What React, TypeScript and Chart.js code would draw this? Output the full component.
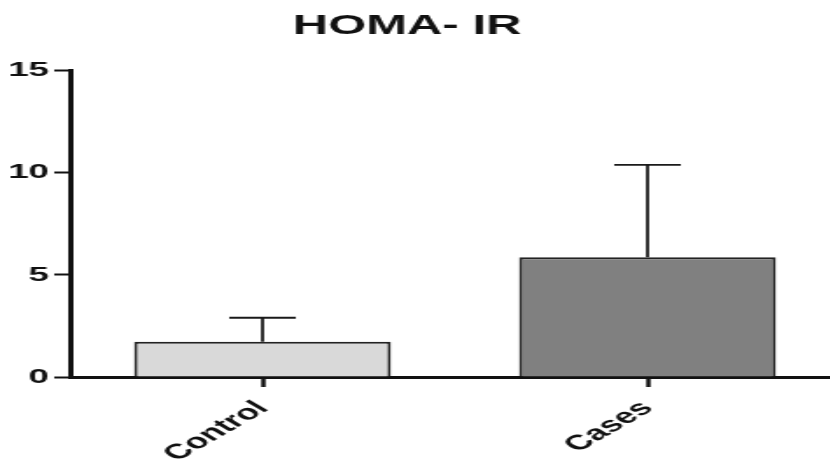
import React, { useEffect, useRef } from "react";
import { Chart, registerables } from "chart.js";

Chart.register(...registerables);

// ---- data ----
const chartTitle = "HOMA- IR";
const categories = ["Control", "Cases"];
const means = [1.73, 5.86];
const sds = [1.17, 4.52];
const barColors = ["#d9d9d9", "#808080"];
const yMin = 0;
const yMax = 15;
const yStep = 5;

// the reference image is horizontally stretched; the canvas is drawn narrow and stretched by CSS
const SX = 1.75;
const W = 480;
const H = 468;
const FONT = "'Liberation Sans', Arial, sans-serif";

export default function App() {
  const ref = useRef<HTMLCanvasElement>(null);

  useEffect(() => {
    const canvas = ref.current;
    if (!canvas) return;

    const errorBars = {
      id: "errorBars",
      afterDatasetsDraw(chart: any) {
        const ctx = chart.ctx;
        const meta = chart.getDatasetMeta(0);
        const y = chart.scales.y;
        ctx.save();
        ctx.strokeStyle = "#1a1a1a";
        ctx.lineWidth = 1.8;
        meta.data.forEach((bar: any, i: number) => {
          const top = y.getPixelForValue(means[i] + sds[i]);
          ctx.beginPath();
          ctx.moveTo(bar.x, bar.y);
          ctx.lineTo(bar.x, top);
          ctx.moveTo(bar.x - 19, top);
          ctx.lineTo(bar.x + 19, top);
          ctx.stroke();
        });
        ctx.restore();
      },
    };

    const titlePlugin = {
      id: "stretchedTitle",
      afterDraw(chart: any) {
        const ctx = chart.ctx;
        ctx.save();
        ctx.fillStyle = "#111";
        ctx.font = `bold 28px ${FONT}`;
        ctx.textAlign = "center";
        ctx.textBaseline = "alphabetic";
        ctx.fillText(chartTitle, 232.6, 34);
        ctx.restore();
      },
    };

    const chart = new Chart(canvas, {
      type: "bar",
      data: {
        labels: categories,
        datasets: [
          {
            data: means,
            backgroundColor: barColors,
            borderColor: "#222",
            borderWidth: 2,
            barPercentage: 0.667,
            categoryPercentage: 1,
          },
        ],
      },
      options: {
        responsive: false,
        animation: false,
        devicePixelRatio: 1,
        layout: { padding: { top: 70.5, left: 0, right: 0, bottom: 0 } },
        plugins: {
          legend: { display: false },
          title: { display: false },
          tooltip: { enabled: false },
        },
        scales: {
          x: {
            type: "category",
            offset: true,
            afterFit: (s: any) => {
              s.height = 91;
            },
            grid: {
              offset: false,
              drawOnChartArea: false,
              drawTicks: true,
              tickLength: 10,
              tickWidth: 2.5,
              tickColor: "#111",
            },
            border: { display: true, color: "#111", width: 3 },
            ticks: {
              minRotation: 45,
              maxRotation: 45,
              padding: 9,
              color: "#111",
              font: { family: FONT, size: 21, weight: "bold" },
            },
          },
          y: {
            min: yMin,
            max: yMax,
            afterFit: (s: any) => {
              s.width = 40;
            },
            grid: {
              drawOnChartArea: false,
              drawTicks: true,
              tickLength: 9,
              tickWidth: 2,
              tickColor: "#111",
            },
            border: { display: true, color: "#111", width: 3 },
            ticks: {
              stepSize: yStep,
              padding: 3,
              color: "#111",
              font: { family: FONT, size: 21, weight: "bold" },
            },
          },
        },
      },
      plugins: [errorBars, titlePlugin],
    } as any);

    return () => chart.destroy();
  }, []);

  return (
    <div
      style={{
        position: "fixed",
        left: 0,
        top: 0,
        width: 830,
        height: 468,
        overflow: "hidden",
        background: "#fff",
      }}
    >
      <canvas
        ref={ref}
        width={W}
        height={H}
        style={{ width: `${W * SX}px`, height: `${H}px`, display: "block" }}
      />
    </div>
  );
}
